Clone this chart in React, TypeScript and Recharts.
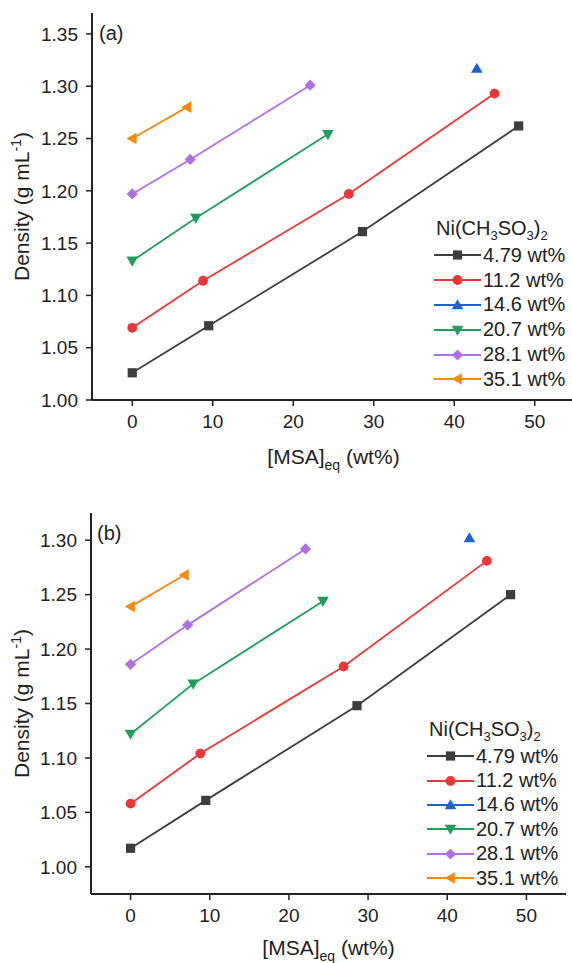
import React from 'react';
import { LineChart, Line, XAxis, YAxis, Legend } from 'recharts';

// [MSA]eq (wt%) for each Ni(CH3SO3)2 concentration
const msa479 = [0, 9.5, 28.6, 48];
const msa112 = [0, 8.8, 26.9, 45];
const msa146 = [42.8];
const msa207 = [0, 7.9, 24.3];
const msa281 = [0, 7.2, 22.1];
const msa351 = [0, 6.8];

// density (g/mL), panel (a)
const densA479 = [1.026, 1.071, 1.161, 1.262];
const densA112 = [1.069, 1.114, 1.197, 1.293];
const densA146 = [1.317];
const densA207 = [1.133, 1.174, 1.254];
const densA281 = [1.197, 1.23, 1.301];
const densA351 = [1.25, 1.28];

// density (g/mL), panel (b)
const densB479 = [1.017, 1.061, 1.148, 1.25];
const densB112 = [1.058, 1.104, 1.184, 1.281];
const densB146 = [1.302];
const densB207 = [1.122, 1.168, 1.244];
const densB281 = [1.186, 1.222, 1.292];
const densB351 = [1.239, 1.268];

const concLabels = ['4.79 wt%', '11.2 wt%', '14.6 wt%', '20.7 wt%', '28.1 wt%', '35.1 wt%'];
const seriesColors = ['#3d3d3d', '#ea3737', '#1a62d6', '#1f9d5c', '#b06fe3', '#f5890e'];
const markerShapes = ['square', 'circle', 'up', 'down', 'diamond', 'left'];

const xTicks = [0, 10, 20, 30, 40, 50];
const yTicksA = [1.0, 1.05, 1.1, 1.15, 1.2, 1.25, 1.3, 1.35];
const yTicksB = [1.0, 1.05, 1.1, 1.15, 1.2, 1.25, 1.3];

const msaSets = [msa479, msa112, msa146, msa207, msa281, msa351];
const densA = [densA479, densA112, densA146, densA207, densA281, densA351];
const densB = [densB479, densB112, densB146, densB207, densB281, densB351];

const FONT = '"Liberation Sans", Arial, sans-serif';
const INK = '#222';

const toPoints = (xs: number[], ys: number[]) => xs.map((x, i) => ({ x, y: ys[i] }));

const marker = (shape: string, cx: number, cy: number, color: string, key?: any) => {
  const s = 5.3;
  switch (shape) {
    case 'square':
      return <rect key={key} x={cx - 4.6} y={cy - 4.6} width={9.2} height={9.2} fill={color} />;
    case 'circle':
      return <circle key={key} cx={cx} cy={cy} r={4.9} fill={color} />;
    case 'up':
      return <polygon key={key} points={`${cx},${cy - s - 0.5} ${cx + s + 0.5},${cy + s - 1} ${cx - s - 0.5},${cy + s - 1}`} fill={color} />;
    case 'down':
      return <polygon key={key} points={`${cx},${cy + s + 0.5} ${cx + s + 0.5},${cy - s + 1} ${cx - s - 0.5},${cy - s + 1}`} fill={color} />;
    case 'diamond':
      return <polygon key={key} points={`${cx},${cy - s - 0.3} ${cx + s + 0.3},${cy} ${cx},${cy + s + 0.3} ${cx - s - 0.3},${cy}`} fill={color} />;
    default:
      return <polygon key={key} points={`${cx - s - 0.5},${cy} ${cx + s - 1},${cy - s - 0.5} ${cx + s - 1},${cy + s + 0.5}`} fill={color} />;
  }
};

const makeDot = (shape: string, color: string) => (props: any) => {
  const { cx, cy, index } = props;
  if (cx == null || cy == null) return <g key={index} />;
  return marker(shape, cx, cy, color, index);
};

const LegendBox = ({ rowHeight }: { rowHeight: number }) => (
  <div style={{ fontFamily: FONT, color: INK, fontSize: 20, whiteSpace: 'nowrap' }}>
    <div style={{ height: 29, lineHeight: '29px', paddingLeft: 2 }}>
      Ni(CH<sub style={{ fontSize: 13, lineHeight: 0 }}>3</sub>SO
      <sub style={{ fontSize: 13, lineHeight: 0 }}>3</sub>)
      <sub style={{ fontSize: 13, lineHeight: 0 }}>2</sub>
    </div>
    {concLabels.map((label, i) => (
      <div key={label} style={{ display: 'flex', alignItems: 'center', height: rowHeight }}>
        <svg width={47} height={14} style={{ display: 'block' }}>
          <line x1={0} y1={7} x2={47} y2={7} stroke={seriesColors[i]} strokeWidth={2} />
          {marker(markerShapes[i], 23.5, 7, seriesColors[i])}
        </svg>
        <span style={{ marginLeft: 2 }}>{label}</span>
      </div>
    ))}
  </div>
);

const XTitle = (props: any) => {
  const { viewBox, offset } = props;
  const cx = viewBox.x + viewBox.width / 2;
  const y = viewBox.y + offset;
  return (
    <text x={cx} y={y} textAnchor="middle" fontSize={21} fill={INK} fontFamily={FONT}>
      [MSA]
      <tspan fontSize={14} dy={6}>eq</tspan>
      <tspan dy={-6}> (wt%)</tspan>
    </text>
  );
};

const YTitle = (props: any) => {
  const { viewBox } = props;
  const x = viewBox.x + 29;
  const cy = viewBox.y + viewBox.height / 2;
  return (
    <text x={x} y={cy} textAnchor="middle" fontSize={21} fill={INK} fontFamily={FONT} transform={`rotate(-90, ${x}, ${cy})`}>
      Density (g mL
      <tspan fontSize={14} dy={-8}>-1</tspan>
      <tspan dy={8}>)</tspan>
    </text>
  );
};

type PanelProps = {
  tag: string;
  dens: number[][];
  yDomain: [number, number];
  yTicks: number[];
  width: number;
  height: number;
  margin: { top: number; right: number; bottom: number; left: number };
  yAxisWidth: number;
  xAxisHeight: number;
  xTitleOffset: number;
  legendPos: { left: number; top: number };
  legendRow: number;
  tagPos: { left: number; top: number };
};

const Panel: React.FC<PanelProps> = ({ tag, dens, yDomain, yTicks, width, height, margin, yAxisWidth, xAxisHeight, xTitleOffset, legendPos, legendRow, tagPos }) => {
  const axisLine = { stroke: INK, strokeWidth: 2 };
  const tickLine = { stroke: INK, strokeWidth: 1.5 };
  const tickStyle = { fontSize: 19, fill: INK, fontFamily: FONT };
  return (
    <div style={{ position: 'relative', width, height }}>
      <LineChart width={width} height={height} margin={margin}>
        <XAxis
          dataKey="x"
          type="number"
          domain={[-5, 55]}
          ticks={xTicks}
          height={xAxisHeight}
          axisLine={axisLine}
          tickLine={tickLine}
          tickSize={6}
          tickMargin={9}
          tick={tickStyle}
          label={{ content: (p: any) => <XTitle {...p} offset={xTitleOffset} /> }}
        />
        <XAxis xAxisId="top" orientation="top" type="number" domain={[-5, 55]} height={0} tick={false} tickLine={false} axisLine={axisLine} />
        <YAxis
          type="number"
          domain={yDomain}
          ticks={yTicks}
          width={yAxisWidth}
          axisLine={axisLine}
          tickLine={tickLine}
          tickSize={6}
          tickMargin={8}
          tick={tickStyle}
          tickFormatter={(v: number) => v.toFixed(2)}
          allowDataOverflow
          label={{ content: <YTitle /> }}
        />
        <YAxis yAxisId="right" orientation="right" type="number" domain={yDomain} width={0} tick={false} tickLine={false} axisLine={axisLine} />
        {dens.map((ys, i) => (
          <Line
            key={concLabels[i]}
            name={concLabels[i]}
            data={toPoints(msaSets[i], ys)}
            dataKey="y"
            type="linear"
            stroke={seriesColors[i]}
            strokeWidth={1.8}
            dot={makeDot(markerShapes[i], seriesColors[i])}
            activeDot={false}
            isAnimationActive={false}
          />
        ))}
        <Legend
          layout="vertical"
          align="center"
          verticalAlign="middle"
          content={() => <LegendBox rowHeight={legendRow} />}
          wrapperStyle={{ left: legendPos.left, top: legendPos.top, width: 'auto' }}
        />
      </LineChart>
      <div style={{ position: 'absolute', left: tagPos.left, top: tagPos.top, fontFamily: FONT, fontSize: 20, color: INK, lineHeight: '24px' }}>
        {tag}
      </div>
    </div>
  );
};

export default function App() {
  return (
    <div style={{ position: 'absolute', left: 0, top: 0, width: 572, height: 963, overflow: 'hidden', background: '#fff' }}>
      <Panel
        tag="(a)"
        dens={densA}
        yDomain={[1.0, 1.37]}
        yTicks={yTicksA}
        width={580}
        height={480}
        margin={{ top: 13, right: 5, bottom: 0, left: 0 }}
        yAxisWidth={92}
        xAxisHeight={80}
        xTitleOffset={64}
        legendPos={{ left: 434, top: 214 }}
        legendRow={24.8}
        tagPos={{ left: 99, top: 21 }}
      />
      <Panel
        tag="(b)"
        dens={densB}
        yDomain={[0.975, 1.325]}
        yTicks={yTicksB}
        width={572}
        height={483}
        margin={{ top: 33, right: 6, bottom: 0, left: 0 }}
        yAxisWidth={91}
        xAxisHeight={69}
        xTitleOffset={61}
        legendPos={{ left: 427, top: 235 }}
        legendRow={24.4}
        tagPos={{ left: 97, top: 41 }}
      />
    </div>
  );
}
